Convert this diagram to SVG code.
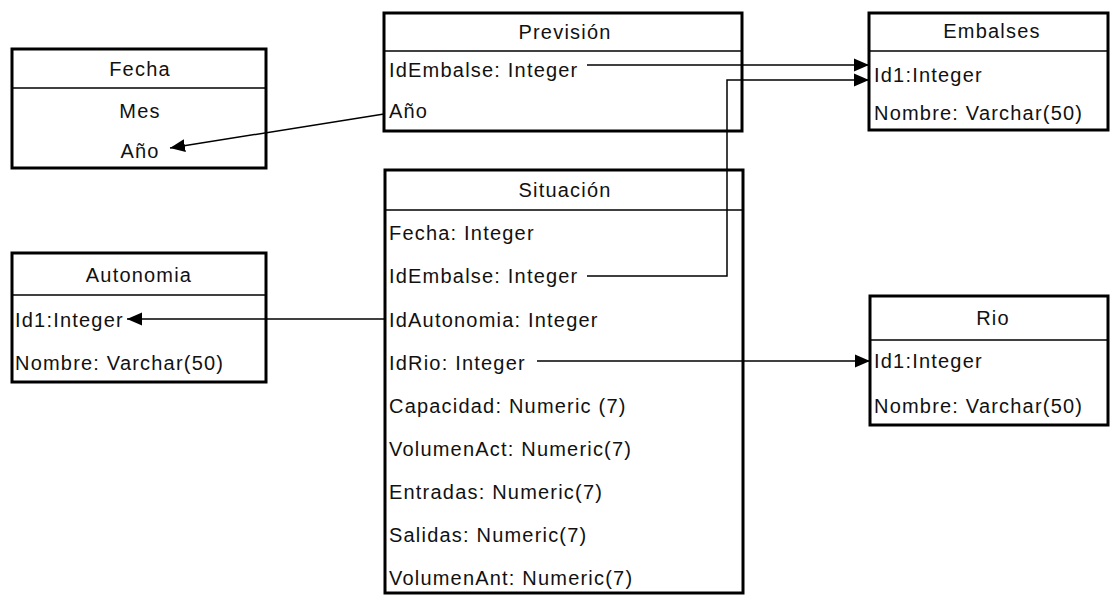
<svg xmlns="http://www.w3.org/2000/svg" width="1110" height="596" viewBox="0 0 1110 596">
  <style>
    .box { fill: #ffffff; stroke: #000000; stroke-width: 3; }
    .sep { stroke: #000000; stroke-width: 1.5; }
    .t { font-family: "Liberation Sans", Arial, sans-serif; font-size: 20px; letter-spacing: 1.2px; fill: #111111; }
    .c { text-anchor: middle; }
    .link { fill: none; stroke: #000000; stroke-width: 1.5; }
  </style>
  <defs>
    <marker id="arrow" markerUnits="userSpaceOnUse" markerWidth="16" markerHeight="14" refX="15" refY="7" orient="auto">
      <path d="M0,0.5 L15,7 L0,13.5 Z" fill="#000000"/>
    </marker>
  </defs>
  <rect width="1110" height="596" fill="#ffffff"/>

  <!-- Fecha -->
  <g id="fecha">
    <rect class="box" x="12" y="49" width="254" height="119"/>
    <line class="sep" x1="12" y1="88" x2="266" y2="88"/>
    <text class="t c" x="140" y="76">Fecha</text>
    <text class="t c" x="140" y="118">Mes</text>
    <text class="t c" x="140" y="158">Año</text>
  </g>

  <!-- Previsión -->
  <g id="prevision">
    <rect class="box" x="384" y="13" width="358" height="118"/>
    <line class="sep" x1="384" y1="51" x2="742" y2="51"/>
    <text class="t c" x="565" y="39">Previsión</text>
    <text class="t" x="389" y="77">IdEmbalse: Integer</text>
    <text class="t" x="389" y="118">Año</text>
  </g>

  <!-- Embalses -->
  <g id="embalses">
    <rect class="box" x="869" y="13" width="239" height="117"/>
    <line class="sep" x1="869" y1="51" x2="1108" y2="51"/>
    <text class="t c" x="992" y="38">Embalses</text>
    <text class="t" x="874" y="82">Id1:Integer</text>
    <text class="t" x="874" y="120">Nombre: Varchar(50)</text>
  </g>

  <!-- Situación -->
  <g id="situacion">
    <rect class="box" x="385" y="170" width="358" height="423"/>
    <line class="sep" x1="385" y1="210" x2="743" y2="210"/>
    <text class="t c" x="565" y="197">Situación</text>
    <text class="t" x="389" y="240">Fecha: Integer</text>
    <text class="t" x="389" y="283">IdEmbalse: Integer</text>
    <text class="t" x="389" y="327">IdAutonomia: Integer</text>
    <text class="t" x="389" y="370">IdRio: Integer</text>
    <text class="t" x="389" y="413">Capacidad: Numeric (7)</text>
    <text class="t" x="389" y="456">VolumenAct: Numeric(7)</text>
    <text class="t" x="389" y="499">Entradas: Numeric(7)</text>
    <text class="t" x="389" y="542">Salidas: Numeric(7)</text>
    <text class="t" x="389" y="585">VolumenAnt: Numeric(7)</text>
  </g>

  <!-- Autonomia -->
  <g id="autonomia">
    <rect class="box" x="12" y="253" width="254" height="129"/>
    <line class="sep" x1="12" y1="295" x2="266" y2="295"/>
    <text class="t c" x="139" y="282">Autonomia</text>
    <text class="t" x="15" y="327">Id1:Integer</text>
    <text class="t" x="15" y="370">Nombre: Varchar(50)</text>
  </g>

  <!-- Rio -->
  <g id="rio">
    <rect class="box" x="870" y="296" width="238" height="129"/>
    <line class="sep" x1="870" y1="340" x2="1108" y2="340"/>
    <text class="t c" x="993" y="325">Rio</text>
    <text class="t" x="874" y="368">Id1:Integer</text>
    <text class="t" x="874" y="413">Nombre: Varchar(50)</text>
  </g>

  <!-- Foreign key links -->
  <g id="connectors">
    <line class="link" x1="587" y1="65" x2="869" y2="65" marker-end="url(#arrow)"/>
    <polyline class="link" points="587,276 727,276 727,80 869,80" marker-end="url(#arrow)"/>
    <line class="link" x1="384" y1="114" x2="170" y2="148" marker-end="url(#arrow)"/>
    <line class="link" x1="385" y1="319" x2="127" y2="319" marker-end="url(#arrow)"/>
    <line class="link" x1="537" y1="361" x2="870" y2="361" marker-end="url(#arrow)"/>
  </g>
</svg>
